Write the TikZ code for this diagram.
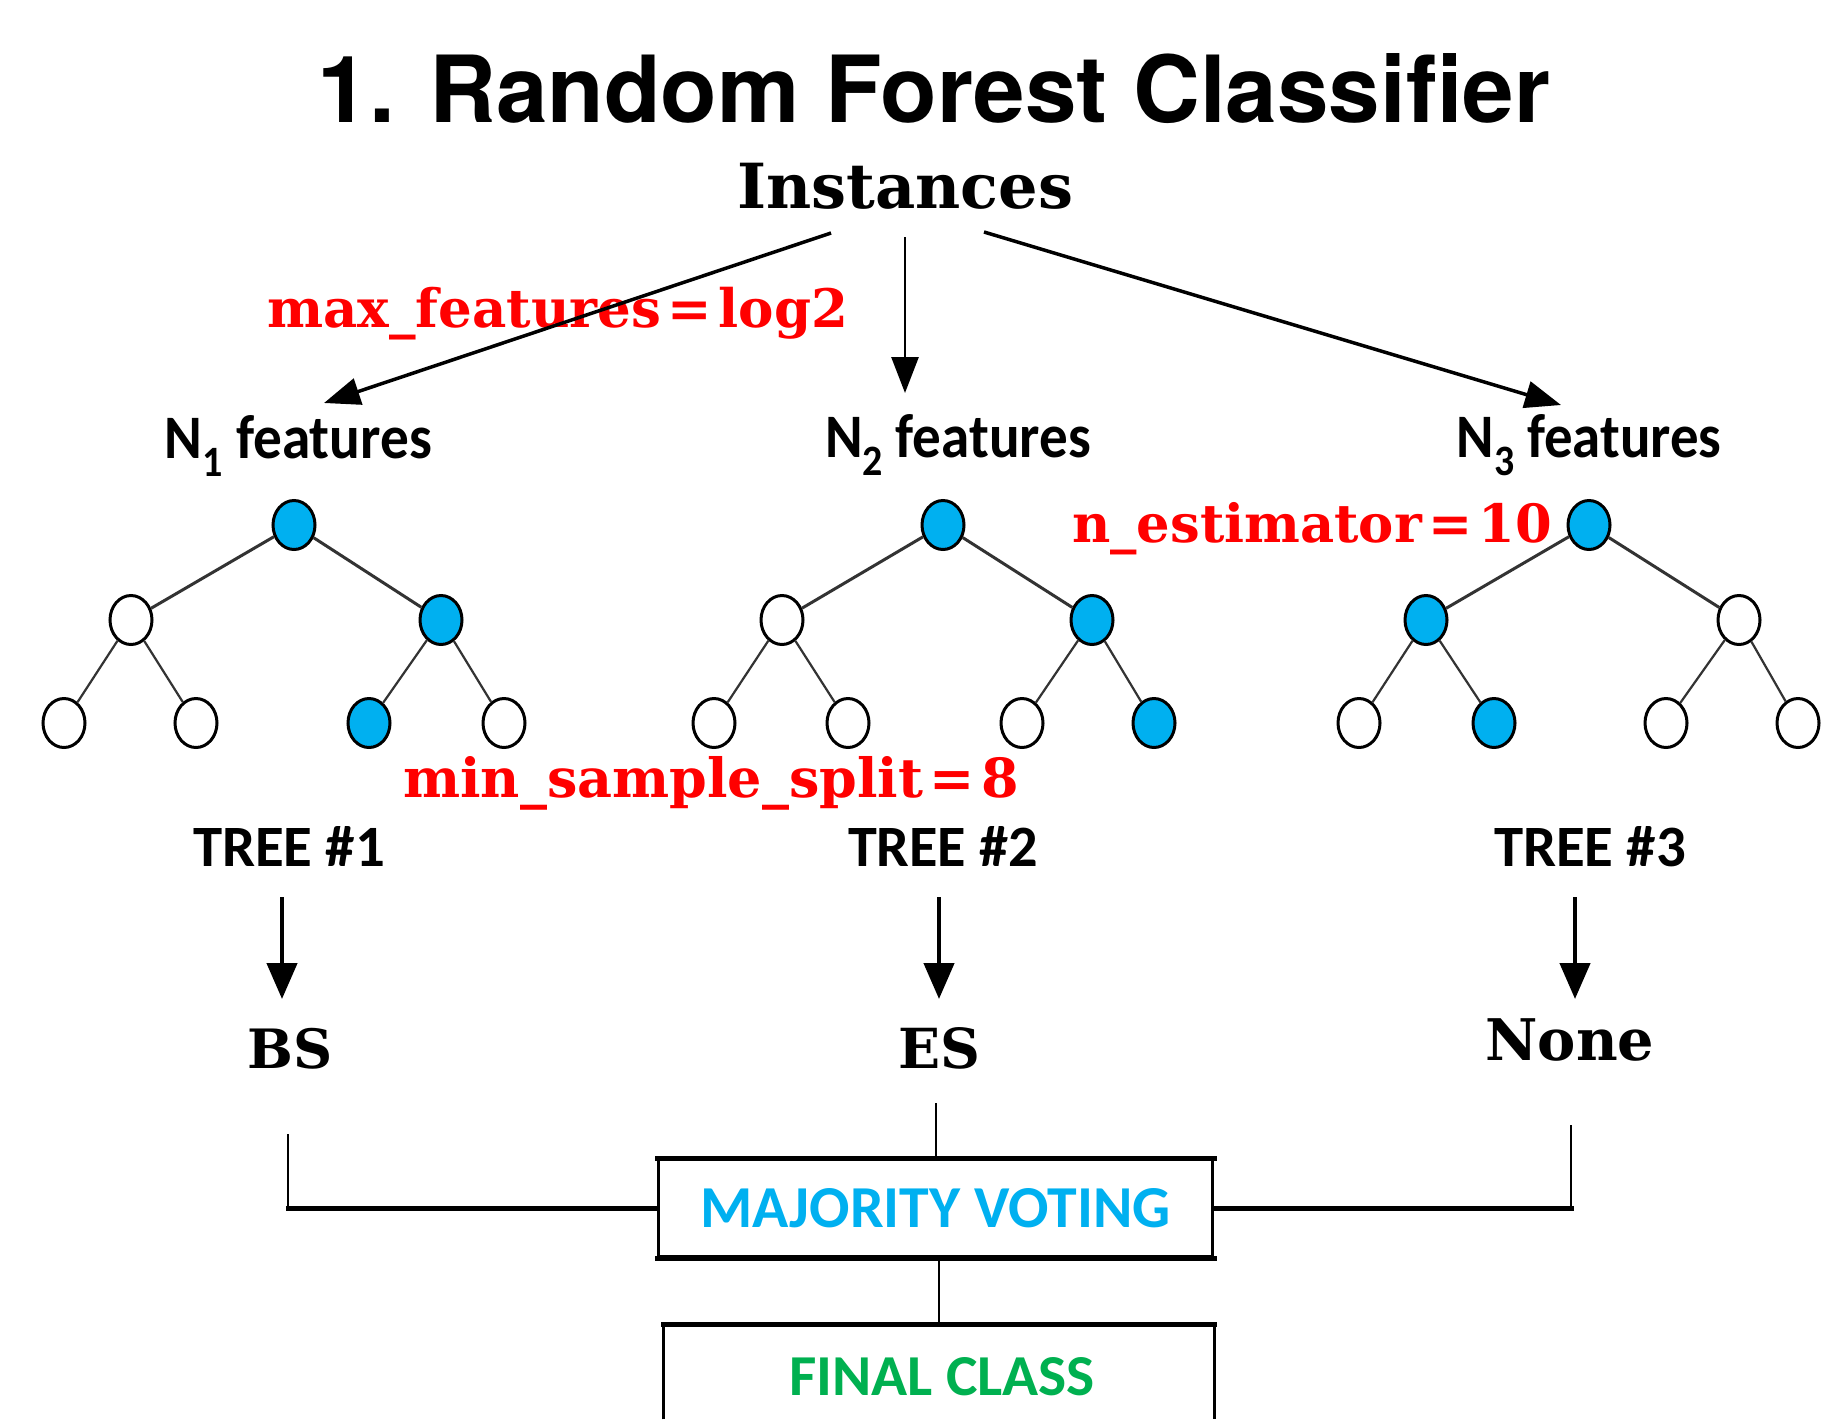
\documentclass[tikz,border=0pt]{standalone}
\usepackage{fontspec}
\usepackage{graphicx}
\usetikzlibrary{arrows.meta,shapes.geometric,calc}
\newfontfamily\herosfont{TeX Gyre Heros}
\newfontfamily\dvsfont{DejaVu Serif}
\newfontfamily\carlfont{Carlito}
\definecolor{nodeblue}{HTML}{00B0F0}
\definecolor{labred}{HTML}{FF0000}
\definecolor{classgreen}{HTML}{00B050}
\definecolor{edgegray}{HTML}{333333}
% N with a lowered index, as in "N_1 features"
\newcommand{\Nsub}[1]{N\raisebox{-0.3em}{\fontsize{42}{42}\selectfont #1}\ features}

\begin{document}
\begin{tikzpicture}[x=1pt,y=-1pt,
  title/.style={font=\herosfont\bfseries\fontsize{92.6}{100}\selectfont, anchor=base, inner sep=0pt},
  serifb/.style={font=\dvsfont\bfseries\fontsize{60}{70}\selectfont, anchor=base, inner sep=0pt},
  param/.style={serifb, text=labred, anchor=base west},
  calib/.style={font=\carlfont\bfseries\fontsize{60}{70}\selectfont, anchor=base, inner sep=0pt},
  tnode/.style={ellipse, draw=black, line width=3pt, minimum width=42pt, minimum height=49pt, inner sep=0pt},
  hotnode/.style={tnode, fill=nodeblue},
  coldnode/.style={tnode, fill=white},
  branch/.style={draw=edgegray, line width=2.2pt},
  topbranch/.style={draw=edgegray, line width=3pt},
  feed/.style={-{Triangle[length=36pt,width=27pt]}, line width=3.5pt},
  vote/.style={-{Triangle[length=36pt,width=30pt]}, line width=4.5pt},
  thinrule/.style={line width=2.5pt},
  thickrule/.style={line width=5pt, line cap=rect},
]
\useasboundingbox (0,0) rectangle (1830,1419);
\fill[white] (0,0) rectangle (1830,1419);

% headings
\node[title] (title) at (934,122) {1. Random Forest Classifier};
\node[serifb] (inst) at (905,208) {\resizebox{336pt}{!}{Instances}};

% hyper-parameter labels
\node[param] (maxf) at (267,327) {\resizebox{581pt}{!}{max\_features\hspace{0.12em}=\hspace{0.12em}log2}};
\node[param] (nest) at (1072,542) {\resizebox{480pt}{!}{n\_estimator\hspace{0.12em}=\hspace{0.12em}10}};
\node[param] (mss) at (403,797) {\resizebox{616pt}{!}{min\_sample\_split\hspace{0.12em}=\hspace{0.12em}8}};

% feature subsets
\node[calib] (n1) at (298.5,458) {\resizebox{267pt}{43pt}{\Nsub{1}}};
\node[calib] (n2) at (958,457) {\resizebox{266pt}{43pt}{\Nsub{2}}};
\node[calib] (n3) at (1589,457) {\resizebox{265pt}{43pt}{\Nsub{3}}};

% instances feed the three feature subsets
\coordinate (f1s) at (831,233); \coordinate (f1e) at (324,403);
\coordinate (f2s) at (905,237); \coordinate (f2e) at (905,393);
\coordinate (f3s) at (984,232); \coordinate (f3e) at (1561,405);
\draw[feed] (f1s) -- (f1e);
\draw[feed, line width=2.8pt] (f2s) -- (f2e);
\draw[feed] (f3s) -- (f3e);

% tree 1
\node[hotnode]  (t1r)  at (294,525) {};
\node[coldnode] (t1a)  at (131,620) {};
\node[hotnode]  (t1b)  at (441,620) {};
\node[coldnode] (t1aa) at (64,723) {};
\node[coldnode] (t1ab) at (196,723) {};
\node[hotnode]  (t1ba) at (369,723) {};
\node[coldnode] (t1bb) at (504,723) {};
% tree 2
\node[hotnode]  (t2r)  at (943,525) {};
\node[coldnode] (t2a)  at (782,620) {};
\node[hotnode]  (t2b)  at (1092,620) {};
\node[coldnode] (t2aa) at (714,723) {};
\node[coldnode] (t2ab) at (848,723) {};
\node[coldnode] (t2ba) at (1022,723) {};
\node[hotnode]  (t2bb) at (1154,723) {};
% tree 3
\node[hotnode]  (t3r)  at (1589,525) {};
\node[hotnode]  (t3a)  at (1426,620) {};
\node[coldnode] (t3b)  at (1739,620) {};
\node[coldnode] (t3aa) at (1359,723) {};
\node[hotnode]  (t3ab) at (1494,723) {};
\node[coldnode] (t3ba) at (1666,723) {};
\node[coldnode] (t3bb) at (1798,723) {};

\foreach \q in {1,2,3} {
  \draw[topbranch] (t\q r) -- (t\q a);
  \draw[topbranch] (t\q r) -- (t\q b);
  \draw[branch] (t\q a) -- (t\q aa);
  \draw[branch] (t\q a) -- (t\q ab);
  \draw[branch] (t\q b) -- (t\q ba);
  \draw[branch] (t\q b) -- (t\q bb);
}

% tree names
\node[calib] (tr1) at (289,866) {\resizebox{192pt}{40pt}{TREE \#1}};
\node[calib] (tr2) at (943,866) {\resizebox{190pt}{40pt}{TREE \#2}};
\node[calib] (tr3) at (1590,866) {\resizebox{192pt}{40pt}{TREE \#3}};

% predictions of the trees
\coordinate (v1s) at (282,897);  \coordinate (v1e) at (282,999);
\coordinate (v2s) at (939,897);  \coordinate (v2e) at (939,999);
\coordinate (v3s) at (1575,897); \coordinate (v3e) at (1575,999);
\draw[vote] (v1s) -- (v1e);
\draw[vote] (v2s) -- (v2e);
\draw[vote] (v3s) -- (v3e);

\node[serifb] (bs) at (290,1068) {\resizebox{85pt}{!}{BS}};
\node[serifb] (es) at (939,1068) {\resizebox{82pt}{!}{ES}};
\node[serifb] (none) at (1570,1060) {\resizebox{169pt}{!}{None}};

% voting box
\node[draw, line width=3pt, minimum width=554pt, minimum height=97pt, inner sep=0pt,
      text=nodeblue, font=\carlfont\bfseries\fontsize{60}{70}\selectfont]
      (mv) at (935.5,1208) {\resizebox{470pt}{39pt}{MAJORITY VOTING}};
\draw[thickrule] (mv.north west) -- (mv.north east);
\draw[thickrule] (mv.south west) -- (mv.south east);

% final class box, open towards the lower edge
\node[minimum width=551pt, minimum height=94.5pt, inner sep=0pt, anchor=north] (fcbox) at (939,1324.5) {};
\draw[line width=3pt] (fcbox.south west) -- (fcbox.north west) -- (fcbox.north east) -- (fcbox.south east);
\draw[thickrule] (fcbox.north west) -- (fcbox.north east);
\node[calib, text=classgreen] (fc) at (942,1395) {\resizebox{306pt}{38pt}{FINAL CLASS}};

% votes collected into the box
\coordinate (b1) at (288,1134);
\coordinate (b2) at (936,1103);
\coordinate (b3) at (1571,1125);
\draw[thinrule] (b1) -- (b1 |- mv.west);
\draw[thickrule] (b1 |- mv.west) -- (mv.west);
\draw[thinrule] (b2) -- (b2 |- mv.north);
\draw[thinrule] (b3) -- (b3 |- mv.east);
\draw[thickrule] (mv.east) -- (b3 |- mv.east);
\draw[thinrule] (mv.south -| fcbox.north) -- (fcbox.north);
\end{tikzpicture}
\end{document}
